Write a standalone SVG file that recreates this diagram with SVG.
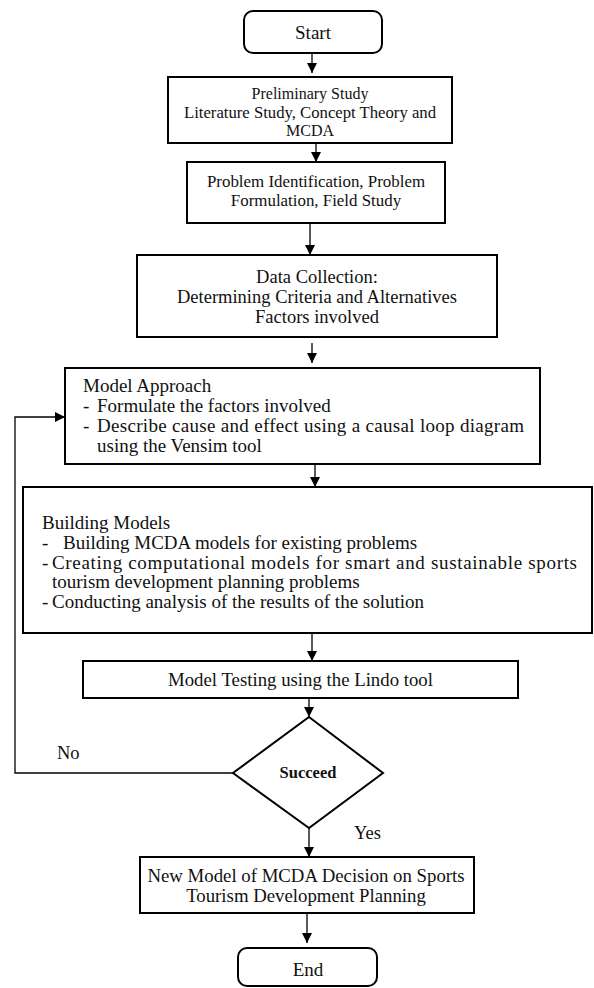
<svg xmlns="http://www.w3.org/2000/svg" width="594" height="988" viewBox="0 0 594 988">
<style>
.box{fill:#fff;stroke:#000;stroke-width:2}
.t{font-family:"Liberation Serif","Times New Roman",serif;fill:#111}
.c{text-anchor:middle}
.conn{fill:none;stroke:#000;stroke-width:1.3}
</style>
<defs>
<marker id="ah" markerUnits="userSpaceOnUse" markerWidth="10" markerHeight="10" refX="10" refY="5" orient="auto">
<path d="M0,0 L10,5 L0,10 z" fill="#000"/>
</marker>
</defs>
<rect width="594" height="988" fill="#fff"/>
<g id="connectors">
<line class="conn" x1="312" y1="53" x2="312" y2="73" marker-end="url(#ah)"/>
<line class="conn" x1="316" y1="143" x2="316" y2="162" marker-end="url(#ah)"/>
<line class="conn" x1="310" y1="223" x2="310" y2="255" marker-end="url(#ah)"/>
<line class="conn" x1="312" y1="343" x2="312" y2="363" marker-end="url(#ah)"/>
<line class="conn" x1="315" y1="465" x2="315" y2="487" marker-end="url(#ah)"/>
<line class="conn" x1="312" y1="634" x2="312" y2="661" marker-end="url(#ah)"/>
<line class="conn" x1="309" y1="698" x2="309" y2="717" marker-end="url(#ah)"/>
<polyline class="conn" points="233,773 15,773 15,417 65,417" marker-end="url(#ah)"/>
<line class="conn" x1="309" y1="828" x2="309" y2="857" marker-end="url(#ah)"/>
<line class="conn" x1="307" y1="913" x2="307" y2="943" marker-end="url(#ah)"/>
<text class="t" x="57" y="759" font-size="18.5">No</text>
<text class="t" x="354" y="839" font-size="18.5">Yes</text>
</g>
<g id="start">
<rect class="box" x="244" y="11" width="138" height="42" rx="9"/>
<text class="t c" x="313" y="39" font-size="19">Start</text>
</g>
<g id="preliminary">
<rect class="box" x="168" y="77" width="284" height="66"/>
<text class="t c" x="310" y="99" font-size="16">Preliminary Study</text>
<text class="t c" x="310" y="117.5" font-size="16" textLength="252" lengthAdjust="spacingAndGlyphs">Literature Study, Concept Theory and</text>
<text class="t c" x="310" y="136" font-size="16">MCDA</text>
</g>
<g id="problem">
<rect class="box" x="187" y="162" width="258" height="61"/>
<text class="t c" x="316" y="187" font-size="16.9">Problem Identification, Problem</text>
<text class="t c" x="316" y="206" font-size="16.9">Formulation, Field Study</text>
</g>
<g id="data">
<rect class="box" x="137" y="255" width="360" height="82"/>
<text class="t c" x="317" y="283" font-size="18.5">Data Collection:</text>
<text class="t c" x="317" y="303" font-size="18.5">Determining Criteria and Alternatives</text>
<text class="t c" x="317" y="323" font-size="18.5">Factors involved</text>
</g>
<g id="approach">
<rect class="box" x="65" y="368" width="475" height="96"/>
<text class="t" x="83" y="392" font-size="19">Model Approach</text>
<text class="t" x="83" y="412" font-size="19">-</text>
<text class="t" x="97" y="412" font-size="19">Formulate the factors involved</text>
<text class="t" x="83" y="432" font-size="19">-</text>
<text class="t" x="97" y="432" font-size="19" textLength="427" lengthAdjust="spacing">Describe cause and effect using a causal loop diagram</text>
<text class="t" x="97" y="452" font-size="19">using the Vensim tool</text>
</g>
<g id="building">
<rect class="box" x="23" y="487" width="569" height="146"/>
<text class="t" x="42" y="529" font-size="19">Building Models</text>
<text class="t" x="42" y="549" font-size="19">-</text>
<text class="t" x="63" y="549" font-size="19">Building MCDA models for existing problems</text>
<text class="t" x="42" y="569" font-size="19">-</text>
<text class="t" x="52" y="569" font-size="19" textLength="525" lengthAdjust="spacing">Creating computational models for smart and sustainable sports</text>
<text class="t" x="52" y="588" font-size="19">tourism development planning problems</text>
<text class="t" x="42" y="608" font-size="19">-</text>
<text class="t" x="52" y="608" font-size="19">Conducting analysis of the results of the solution</text>
</g>
<g id="testing">
<rect class="box" x="83" y="661" width="435" height="37"/>
<text class="t c" x="300.5" y="686" font-size="18.8">Model Testing using the Lindo tool</text>
</g>
<g id="succeed">
<polygon class="box" points="309,717 383,773 309,828 233,773"/>
<text class="t c" x="308" y="778" font-size="16.5" font-weight="bold">Succeed</text>
</g>
<g id="newmodel">
<rect class="box" x="140" y="857" width="334" height="56"/>
<text class="t c" x="306" y="882" font-size="18.8">New Model of MCDA Decision on Sports</text>
<text class="t c" x="306" y="902" font-size="18.8">Tourism Development Planning</text>
</g>
<g id="end">
<rect class="box" x="238" y="948" width="139" height="38" rx="9"/>
<text class="t c" x="308" y="976" font-size="19">End</text>
</g>
</svg>
